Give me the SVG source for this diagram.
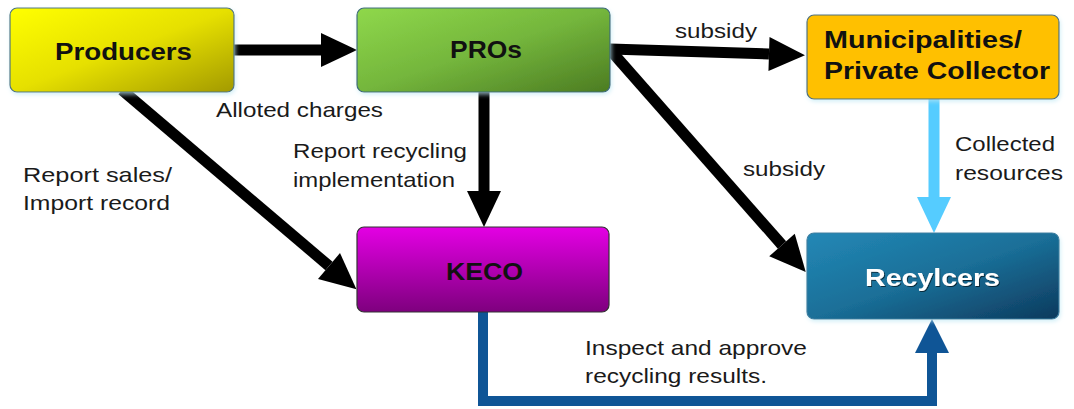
<svg xmlns="http://www.w3.org/2000/svg" width="1074" height="409" viewBox="0 0 1074 409">
<style>
.lbl{font-family:"Liberation Sans",Arial,sans-serif;font-size:21px;fill:#1a1a1a}
.nt{font-family:"Liberation Sans",Arial,sans-serif;font-size:24px;font-weight:bold;fill:#111}
.box{stroke-width:1.2}
.blk{fill:none;stroke:#000;stroke-width:11}
</style>
<defs>
<linearGradient id="gProd" x1="0" y1="0" x2="1" y2="1"><stop offset="0" stop-color="#ffff00"/><stop offset="0.5" stop-color="#e6e000"/><stop offset="1" stop-color="#a39a00"/></linearGradient>
<linearGradient id="gPro" x1="0" y1="0" x2="1" y2="1"><stop offset="0" stop-color="#8fd84b"/><stop offset="0.5" stop-color="#74b63c"/><stop offset="1" stop-color="#4c7c22"/></linearGradient>
<linearGradient id="gKeco" x1="0" y1="0" x2="0" y2="1"><stop offset="0" stop-color="#e400e4"/><stop offset="1" stop-color="#7e007e"/></linearGradient>
<linearGradient id="gRec" x1="0" y1="0" x2="1" y2="1"><stop offset="0" stop-color="#2388b6"/><stop offset="0.5" stop-color="#1a6f98"/><stop offset="1" stop-color="#0d3a5d"/></linearGradient>
<filter id="glow" x="-10%" y="-10%" width="120%" height="130%"><feDropShadow dx="1" dy="2" stdDeviation="2" flood-color="#bfe8f4" flood-opacity="0.7"/></filter>
<filter id="tsh" x="-10%" y="-20%" width="120%" height="150%"><feDropShadow dx="1" dy="1" stdDeviation="0.6" flood-color="#000" flood-opacity="0.6"/></filter>
<marker id="hBlack" markerUnits="userSpaceOnUse" markerWidth="40" markerHeight="40" viewBox="0 -20 40 40" refX="0" refY="0" orient="auto" overflow="visible"><path d="M0,-17 L36,0 L0,17 z" fill="#000"/></marker>
<marker id="hLight" markerUnits="userSpaceOnUse" markerWidth="40" markerHeight="40" viewBox="0 -20 40 40" refX="0" refY="0" orient="auto" overflow="visible"><path d="M0,-17 L36,0 L0,17 z" fill="#55ccff"/></marker>
<marker id="hBlue" markerUnits="userSpaceOnUse" markerWidth="40" markerHeight="40" viewBox="0 -20 40 40" refX="0" refY="0" orient="auto" overflow="visible"><path d="M0,-17 L34,0 L0,17 z" fill="#0f5596"/></marker>
</defs>

<g id="connectors">
<path class="blk" d="M234,50 L321,50" marker-end="url(#hBlack)"/>
<path class="blk" d="M610,49 L769,54" marker-end="url(#hBlack)"/>
<path class="blk" d="M612,52 L782,245" marker-end="url(#hBlack)"/>
<path class="blk" d="M484,92 L484,191" marker-end="url(#hBlack)"/>
<path class="blk" d="M122,90 L329,266" marker-end="url(#hBlack)"/>
<path d="M934,99 L934,197" fill="none" stroke="#55ccff" stroke-width="11" marker-end="url(#hLight)"/>
<path d="M483,312 L483,401 L932,401 L932,353" fill="none" stroke="#0f5596" stroke-width="10" marker-end="url(#hBlue)"/>
<text class="lbl" x="216" y="117" textLength="167" lengthAdjust="spacingAndGlyphs">Alloted charges</text>
<text class="lbl" x="675" y="38" textLength="82" lengthAdjust="spacingAndGlyphs">subsidy</text>
<text class="lbl" x="293" y="158" textLength="174" lengthAdjust="spacingAndGlyphs">Report recycling</text>
<text class="lbl" x="293" y="187" textLength="162" lengthAdjust="spacingAndGlyphs">implementation</text>
<text class="lbl" x="23" y="182" textLength="149" lengthAdjust="spacingAndGlyphs">Report sales/</text>
<text class="lbl" x="23" y="210" textLength="147" lengthAdjust="spacingAndGlyphs">Import record</text>
<text class="lbl" x="743" y="176" textLength="82" lengthAdjust="spacingAndGlyphs">subsidy</text>
<text class="lbl" x="955" y="151" textLength="100" lengthAdjust="spacingAndGlyphs">Collected</text>
<text class="lbl" x="955" y="180" textLength="108" lengthAdjust="spacingAndGlyphs">resources</text>
<text class="lbl" x="585" y="355" textLength="222" lengthAdjust="spacingAndGlyphs">Inspect and approve</text>
<text class="lbl" x="585" y="383" textLength="182" lengthAdjust="spacingAndGlyphs">recycling results.</text>
</g>

<g id="producers">
<rect class="box" x="10" y="8" width="224" height="84" rx="7" fill="url(#gProd)" stroke="#4f7482" filter="url(#glow)"/>
<text class="nt" x="55" y="60" textLength="137" lengthAdjust="spacingAndGlyphs">Producers</text>
</g>
<g id="pros">
<rect class="box" x="357" y="8" width="253" height="84" rx="7" fill="url(#gPro)" stroke="#3d6a7a" filter="url(#glow)"/>
<text class="nt" x="450" y="58" textLength="72" lengthAdjust="spacingAndGlyphs">PROs</text>
</g>
<g id="municipalities">
<rect class="box" x="807" y="15" width="252" height="84" rx="7" fill="#ffc000" stroke="#4f6f7f" filter="url(#glow)"/>
<text class="nt" x="824" y="48" textLength="198" lengthAdjust="spacingAndGlyphs">Municipalities/</text>
<text class="nt" x="824" y="79" textLength="226" lengthAdjust="spacingAndGlyphs">Private Collector</text>
</g>
<g id="keco">
<rect class="box" x="357" y="227" width="252" height="85" rx="7" fill="url(#gKeco)" stroke="#333"/>
<text class="nt" x="446" y="280" textLength="77" lengthAdjust="spacingAndGlyphs" fill="#1a0030">KECO</text>
</g>
<g id="recyclers">
<rect class="box" x="807" y="233" width="252" height="86" rx="7" fill="url(#gRec)" stroke="#3b7ea0" filter="url(#glow)"/>
<text class="nt" x="865" y="286" textLength="135" lengthAdjust="spacingAndGlyphs" style="fill:#fff" filter="url(#tsh)">Recylcers</text>
</g>
</svg>
